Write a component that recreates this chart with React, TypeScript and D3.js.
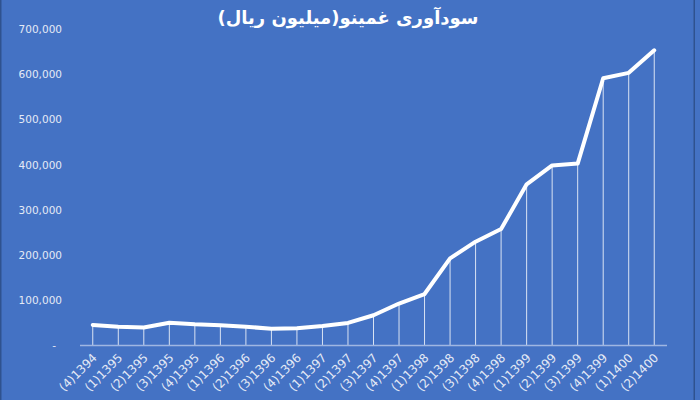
import React, { useRef, useEffect } from 'react';
import * as d3 from 'd3';

const categories = [
  '(4)1394', '(1)1395', '(2)1395', '(3)1395', '(4)1395',
  '(1)1396', '(2)1396', '(3)1396', '(4)1396',
  '(1)1397', '(2)1397', '(3)1397', '(4)1397',
  '(1)1398', '(2)1398', '(3)1398', '(4)1398',
  '(1)1399', '(2)1399', '(3)1399', '(4)1399',
  '(1)1400', '(2)1400',
];

const profit = [
  45400, 41600, 40000, 50400, 47000,
  45000, 41600, 37000, 38000,
  43000, 50000, 67000, 93000,
  114000, 193000, 230000, 258000,
  357000, 399000, 403000, 592000,
  604000, 654000,
];

const yTicks = [0, 100000, 200000, 300000, 400000, 500000, 600000, 700000];

const title = 'سودآوری غمینو(میلیون ریال)';

const App: React.FC = () => {
  const ref = useRef<SVGSVGElement>(null);

  useEffect(() => {
    if (!ref.current) return;
    const width = 700;
    const height = 400;
    const margin = { top: 29.5, right: 33, bottom: 54.5, left: 80 };

    const container = d3.select(ref.current);
    container.selectAll('*').remove();
    const svg = container.attr('viewBox', `0 0 ${width} ${height}`);

    svg.append('rect').attr('width', width).attr('height', height).attr('fill', '#4472c4');
    svg.append('rect').attr('x', 0).attr('width', 1.5).attr('height', height).attr('fill', '#2f528f');
    svg.append('rect').attr('x', 693.5).attr('width', 1.5).attr('height', height).attr('fill', '#2f528f');

    const xScale = d3.scaleBand()
      .domain(categories)
      .range([margin.left, width - margin.right])
      .paddingInner(0)
      .paddingOuter(0);

    const yScale = d3.scaleLinear()
      .domain([0, 700000])
      .range([height - margin.bottom, margin.top]);

    const cx = (c: string) => (xScale(c) as number) + xScale.bandwidth() / 2;

    // y labels
    svg.append('g')
      .selectAll('text')
      .data(yTicks)
      .enter()
      .append('text')
      .attr('x', d => (d === 0 ? 56 : 62))
      .attr('y', d => yScale(d))
      .attr('dy', '0.35em')
      .attr('text-anchor', 'end')
      .attr('fill', '#e4eaf6')
      .style('font-family', '"DejaVu Sans", sans-serif')
      .style('font-size', '10.5px')
      .text(d => (d === 0 ? '-' : d3.format(',')(d)));

    // drop lines
    svg.append('g')
      .selectAll('line')
      .data(categories)
      .enter()
      .append('line')
      .attr('x1', d => cx(d))
      .attr('x2', d => cx(d))
      .attr('y1', (d, i) => yScale(profit[i]))
      .attr('y2', yScale(0))
      .attr('stroke', '#ffffff')
      .attr('stroke-opacity', 0.8)
      .attr('stroke-width', 1);

    // x axis line
    svg.append('line')
      .attr('x1', margin.left)
      .attr('x2', width - margin.right)
      .attr('y1', yScale(0))
      .attr('y2', yScale(0))
      .attr('stroke', '#9fb6e2')
      .attr('stroke-width', 1.5);

    // x labels
    svg.append('g')
      .selectAll('text')
      .data(categories)
      .enter()
      .append('text')
      .attr('transform', d => `translate(${cx(d) + 2},${yScale(0) + 10}) rotate(-45)`)
      .attr('text-anchor', 'end')
      .attr('dy', '0.35em')
      .attr('fill', '#e4eaf6')
      .style('font-family', '"DejaVu Sans", sans-serif')
      .style('font-size', '12px')
      .text(d => d);

    const line = d3.line<number>()
      .x((d, i) => cx(categories[i]))
      .y(d => yScale(d));

    svg.append('path')
      .datum(profit)
      .attr('d', line)
      .attr('fill', 'none')
      .attr('stroke', '#ffffff')
      .attr('stroke-width', 4)
      .attr('stroke-linejoin', 'round')
      .attr('stroke-linecap', 'round');

    svg.append('text')
      .attr('x', 348)
      .attr('y', 24)
      .attr('text-anchor', 'middle')
      .attr('direction', 'rtl')
      .attr('fill', '#ffffff')
      .style('font-family', '"DejaVu Sans", sans-serif')
      .style('font-weight', 'bold')
      .style('font-size', '18px')
      .text(title);
  }, []);

  return (
    <svg
      ref={ref}
      width={700}
      height={400}
      style={{ position: 'absolute', left: 0, top: 0, display: 'block' }}
    />
  );
};

export default App;
